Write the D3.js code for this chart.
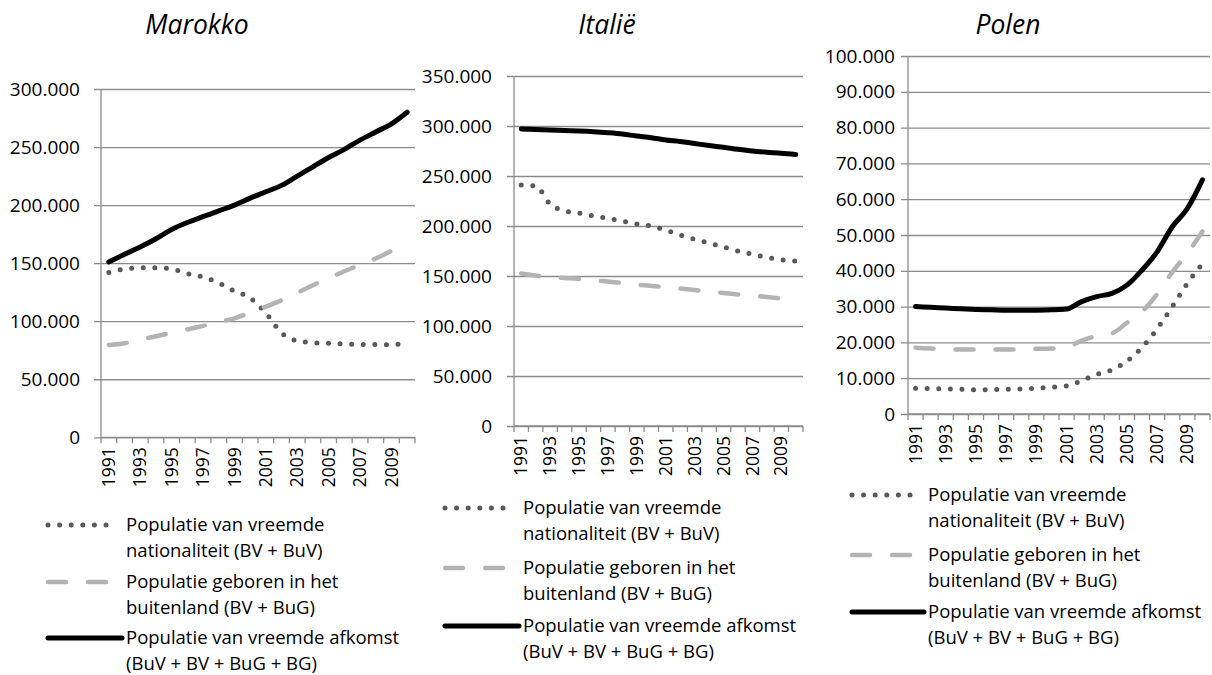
<!DOCTYPE html>
<html>
<head>
<meta charset="utf-8">
<script src="https://cdn.jsdelivr.net/npm/d3@7"></script>
<style>
  html, body { margin: 0; padding: 0; background: #fff; }
  svg { display: block; font-family: "Open Sans", "DejaVu Sans", sans-serif; }
</style>
</head>
<body>
<svg id="chart" width="1212" height="675"></svg>
<script>
// ---------- DATA ----------
const years = ["1991","1992","1993","1994","1995","1996","1997","1998","1999","2000",
               "2001","2002","2003","2004","2005","2006","2007","2008","2009","2010"];
const yearLabels = ["1991","1993","1995","1997","1999","2001","2003","2005","2007","2009"];

const seriesNames = [
  ["Populatie van vreemde", "nationaliteit (BV + BuV)"],
  ["Populatie geboren in het", "buitenland (BV + BuG)"],
  ["Populatie van vreemde afkomst", "(BuV + BV + BuG + BG)"]
];

const titles = ["Marokko", "Italië", "Polen"];

// Marokko
const marokkoNationaliteit = [142000,145000,146000,146000,145000,141000,138000,133000,126000,120000,
                              107000,90000,83000,81500,81000,80500,80000,80000,79500,82000];
const marokkoGeboren       = [79500,81000,84000,87000,90000,93000,96000,99500,102500,107500,
                              112500,118000,124500,131000,137000,143000,148500,154000,160500,166000];
const marokkoAfkomst       = [151000,157600,164000,171000,179000,185000,190000,195000,200000,206000,
                              211500,217000,225000,233000,241000,248000,256000,263000,270000,280000];
const marokkoTicks = [0,50000,100000,150000,200000,250000,300000];

// Italië
const italieNationaliteit = [241000,240000,222000,215000,213000,210000,207700,205000,202000,200000,
                             196000,191000,186700,183000,179000,175000,171700,168700,166300,165000];
const italieGeboren       = [152500,150500,149000,148000,147000,145500,144500,143000,141500,140000,
                             139000,137500,136000,134500,133000,131500,130500,129000,127500,126500];
const italieAfkomst       = [297000,296500,296000,295500,295000,294300,293300,292000,290000,288300,
                             286000,284500,282500,280500,278700,276700,275000,273800,272800,271500];
const italieTicks = [0,50000,100000,150000,200000,250000,300000,350000];

// Polen
const polenNationaliteit = [7200,7100,7000,6900,6800,6800,6900,7000,7200,7500,
                            7800,9300,11100,12300,14800,18600,23800,30000,36500,42000];
const polenGeboren       = [18500,18300,18100,18000,18000,18000,18000,18100,18200,18300,
                            18600,20500,21800,22500,25500,28600,33500,39600,44900,51000];
const polenAfkomst       = [30000,29800,29600,29400,29200,29100,29000,29000,29000,29100,
                            29300,31400,32800,33700,36000,40200,45300,52300,57400,65400];
const polenTicks = [0,10000,20000,30000,40000,50000,60000,70000,80000,90000,100000];

// ---------- LAYOUT / STYLE ----------
const panels = [
  { title: titles[0], titleX: 197, series: [marokkoNationaliteit, marokkoGeboren, marokkoAfkomst],
    ticks: marokkoTicks, x0: 101, x1: 415, yTop: 89, yBot: 437.3, pad: 21,
    leg: { sx0: 48, sx1: 110, tx: 126, rows: [525, 582, 638] } },
  { title: titles[1], titleX: 607, series: [italieNationaliteit, italieGeboren, italieAfkomst],
    ticks: italieTicks, x0: 514, x1: 803, yTop: 76, yBot: 426, pad: 22,
    leg: { sx0: 445, sx1: 510, tx: 523, rows: [508, 568, 626] } },
  { title: titles[2], titleX: 1008, series: [polenNationaliteit, polenGeboren, polenAfkomst],
    ticks: polenTicks, x0: 908, x1: 1210, yTop: 56, yBot: 414, pad: 13,
    leg: { sx0: 852, sx1: 915, tx: 928, rows: [495, 555, 612] } }
];

const styles = [
  { stroke: "#595959", width: 5, dash: "0 11.6", cap: "round" },
  { stroke: "#b3b3b3", width: 4.5, dash: "18 22", cap: "round" },
  { stroke: "#000000", width: 5, dash: null, cap: "round" }
];

const gridColor = "#8c8c8c";
const nl = d3.formatLocale({ decimal: ",", thousands: ".", grouping: [3], currency: ["€", ""] });
const fmt = nl.format(",d");

const svg = d3.select("#chart");

panels.forEach(p => {
  const g = svg.append("g");
  const x = d3.scaleBand().domain(years).range([p.x0, p.x1]).paddingInner(0).paddingOuter(0);
  const y = d3.scaleLinear().domain([0, d3.max(p.ticks)]).range([p.yBot, p.yTop]);

  // title
  g.append("text").attr("x", p.titleX).attr("y", 34).attr("text-anchor", "middle")
    .attr("font-size", 26.5).attr("font-style", "italic").attr("fill", "#000").text(p.title);

  // y axis with gridlines
  const yAxis = d3.axisLeft(y).tickValues(p.ticks).tickFormat(fmt)
    .tickSize(-(p.x1 - p.x0)).tickPadding(p.pad);
  const ya = g.append("g").attr("transform", `translate(${p.x0},0)`).call(yAxis);
  ya.select(".domain").remove();
  ya.selectAll(".tick line").attr("stroke", gridColor).attr("stroke-width", 1.3).attr("x1", -7);
  ya.selectAll(".tick text").attr("font-size", 19).attr("fill", "#000")
    .attr("font-family", "'Open Sans', sans-serif");

  // x axis
  const xa = g.append("g").attr("transform", `translate(0,${p.yBot})`);
  xa.append("line").attr("x1", p.x0).attr("x2", p.x1).attr("y1", 0).attr("y2", 0)
    .attr("stroke", gridColor).attr("stroke-width", 1.3);
  const bounds = years.map(d => x(d)).concat([p.x1]);
  xa.selectAll("line.tk").data(bounds).join("line").attr("class", "tk")
    .attr("x1", d => d).attr("x2", d => d).attr("y1", 0).attr("y2", 6)
    .attr("stroke", gridColor).attr("stroke-width", 1.3);
  xa.selectAll("text").data(yearLabels).join("text")
    .attr("transform", d => `translate(${x(d) + x.bandwidth() / 2},10) rotate(-90)`)
    .attr("text-anchor", "end").attr("dy", "0.35em")
    .attr("font-size", 17.5).attr("fill", "#000").text(d => d);

  // y axis line
  g.append("line").attr("x1", p.x0).attr("x2", p.x0).attr("y1", p.yTop).attr("y2", p.yBot)
    .attr("stroke", gridColor).attr("stroke-width", 1.3);

  // series
  const line = d3.line().x((d, i) => x(years[i]) + x.bandwidth() / 2).y(d => y(d))
    .curve(d3.curveMonotoneX);
  p.series.forEach((s, k) => {
    const st = styles[k];
    g.append("path").datum(s).attr("d", line).attr("fill", "none")
      .attr("stroke", st.stroke).attr("stroke-width", st.width)
      .attr("stroke-linecap", st.cap).attr("stroke-linejoin", "round")
      .attr("stroke-dasharray", st.dash);
  });

  // legend
  const lg = g.append("g");
  seriesNames.forEach((names, k) => {
    const st = styles[k];
    const cy = p.leg.rows[k];
    lg.append("line").attr("x1", p.leg.sx0).attr("x2", k === 2 ? p.leg.tx - 4 : p.leg.sx1)
      .attr("y1", cy).attr("y2", cy)
      .attr("stroke", st.stroke).attr("stroke-width", st.width)
      .attr("stroke-linecap", st.cap).attr("stroke-dasharray", st.dash);
    const t = lg.append("text").attr("font-size", 18.5).attr("fill", "#000");
    names.forEach((nm, j) => {
      t.append("tspan").attr("x", p.leg.tx).attr("y", cy + j * 26).attr("dy", "0.33em").text(nm);
    });
  });
});
</script>
</body>
</html>
